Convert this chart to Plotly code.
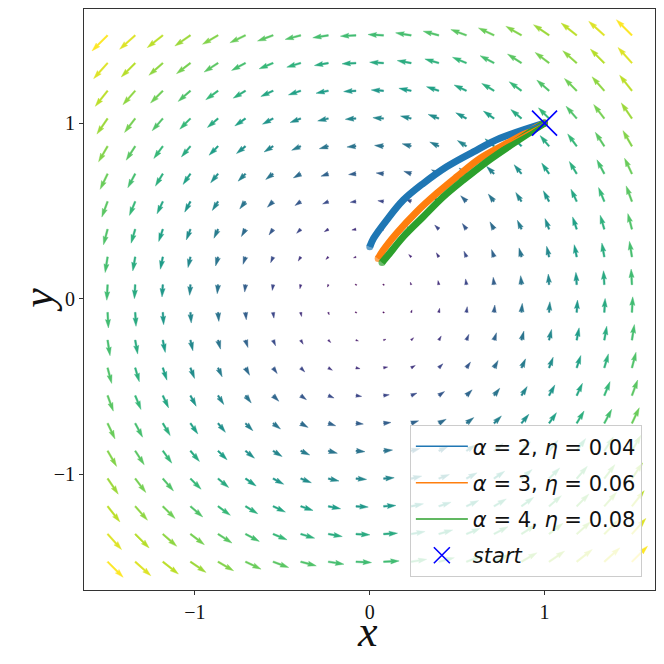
import math

import plotly.graph_objects as go
from plotly.colors import sample_colorscale

# quiver grid (20 x 20 points, same values on both axes)
grid = [-1.5, -1.342, -1.184, -1.026, -0.868, -0.711, -0.553, -0.395, -0.237, -0.079,
        0.079, 0.237, 0.395, 0.553, 0.711, 0.868, 1.026, 1.184, 1.342, 1.5]

# trajectories
traj_labels = ["<i>α</i> = 2, <i>η</i> = 0.04",
               "<i>α</i> = 3, <i>η</i> = 0.06",
               "<i>α</i> = 4, <i>η</i> = 0.08"]
traj_colors = ["#1f77b4", "#ff7f0e", "#2ca02c"]
traj_x = [
    [1.0, 0.745, 0.593, 0.440, 0.306, 0.192, 0.097, 0.022, 0.0],
    [1.0, 0.784, 0.631, 0.498, 0.383, 0.269, 0.154, 0.078, 0.048],
    [1.0, 0.822, 0.669, 0.535, 0.421, 0.306, 0.192, 0.106, 0.070],
]
traj_y = [
    [1.0, 0.913, 0.836, 0.751, 0.656, 0.561, 0.447, 0.343, 0.295],
    [1.0, 0.884, 0.799, 0.694, 0.599, 0.495, 0.372, 0.276, 0.228],
    [1.0, 0.884, 0.779, 0.675, 0.580, 0.466, 0.352, 0.248, 0.205],
]
start_x = [1.0]
start_y = [1.0]

X_RANGE = [-1.635, 1.632]
Y_RANGE = [-1.661, 1.650]
PLOT_W, PLOT_H = 571, 581
SX = PLOT_W / (X_RANGE[1] - X_RANGE[0])   # px per data unit
SY = PLOT_H / (Y_RANGE[1] - Y_RANGE[0])
K = 10.4        # px per unit of field magnitude
W = 1.713       # shaft width, px


def field(x, y):
    return -y, x


def arrow_poly(x0, y0, u, v):
    dx, dy = u * K, v * K
    L = math.hypot(dx, dy) / W
    th = math.atan2(dy, dx)
    if L < 1:
        pts = [(0.5 * math.cos(a * math.pi / 3), 0.5 * math.sin(a * math.pi / 3)) for a in range(7)]
        th = 0.0
    elif L < 5:
        s = L / 5
        pts = [(s * a, s * b) for a, b in zip([0, 0.5, 0, 5, 0, 0.5, 0, 0],
                                              [0.5, 0.5, 1.5, 0, -1.5, -0.5, -0.5, 0.5])]
    else:
        pts = list(zip([0, L - 4.5, L - 5, L, L - 5, L - 4.5, 0, 0],
                       [0.5, 0.5, 1.5, 0, -1.5, -0.5, -0.5, 0.5]))
    c, s_ = math.cos(th), math.sin(th)
    xs = [x0 + (a * c - b * s_) * W / SX for a, b in pts]
    ys = [y0 + (a * s_ + b * c) * W / SY for a, b in pts]
    return xs, ys


arrows = []
for gy in grid:
    for gx in grid:
        u, v = field(gx, gy)
        arrows.append((gx, gy, u, v, math.hypot(u, v)))
cmin = min(a[4] for a in arrows)
cmax = max(a[4] for a in arrows)

groups = {}
for gx, gy, u, v, m in arrows:
    level = round((m - cmin) / (cmax - cmin) * 100) / 100
    xs, ys = arrow_poly(gx, gy, u, v)
    g = groups.setdefault(level, ([], []))
    g[0].extend(xs + [None])
    g[1].extend(ys + [None])

fig = go.Figure()
for level in sorted(groups):
    col = sample_colorscale("Viridis", [level])[0]
    xs, ys = groups[level]
    fig.add_trace(go.Scatter(
        x=xs, y=ys, mode="lines", fill="toself", fillcolor=col,
        line=dict(color=col, width=0.4), showlegend=False, hoverinfo="skip",
    ))

# thick trajectories
for xs, ys, col in zip(traj_x, traj_y, traj_colors):
    sizes = [7] + [0] * (len(xs) - 2) + [7]
    fig.add_trace(go.Scatter(
        x=xs, y=ys, mode="lines+markers",
        line=dict(color=col, width=7, shape="spline", smoothing=1.0),
        marker=dict(size=sizes, color=col, line=dict(width=0)),
        showlegend=False, hoverinfo="skip",
    ))

# thin copies for legend
for i, (xs, ys, col, lab) in enumerate(zip(traj_x, traj_y, traj_colors, traj_labels)):
    fig.add_trace(go.Scatter(
        x=xs, y=ys, mode="lines", name=lab, legendgroup=f"g{i}",
        line=dict(color=col, width=1.5, shape="spline", smoothing=1.0),
    ))

fig.add_trace(go.Scatter(
    x=start_x, y=start_y, mode="markers", name="<i>start</i>", legendgroup="g3",
    marker=dict(symbol="x-thin-open", size=25, color="#0000ff",
                line=dict(color="#0000ff", width=1.6)),
))

axis_common = dict(
    showgrid=False, zeroline=False, showline=True, mirror=True,
    linecolor="#333333", linewidth=1, automargin=False,
    ticks="outside", ticklen=4, tickwidth=1, tickcolor="#333333",
    tickvals=[-1, 0, 1],
    tickfont=dict(family="Liberation Serif", size=20, color="#111111"),
)

label_font = dict(family="Liberation Serif", size=44, color="#111111")

# the page body adds 8 px at top/left, so the margins are shifted to compensate
fig.update_layout(
    width=664, height=664,
    template="plotly_white",
    plot_bgcolor="white", paper_bgcolor="white",
    margin=dict(l=76, r=17, t=1, b=82),
    xaxis=dict(range=X_RANGE, **axis_common),
    yaxis=dict(range=Y_RANGE, **axis_common),
    annotations=[
        dict(text="<i>x</i>", x=0.497, y=-0.072, xref="paper", yref="paper",
             xanchor="center", yanchor="middle", showarrow=False, font=label_font),
        dict(text="<i>y</i>", x=-0.08, y=0.5, xref="paper", yref="paper",
             xanchor="center", yanchor="middle", showarrow=False, textangle=-90,
             font=label_font),
    ],
    legend=dict(
        x=0.977, y=0.022, xanchor="right", yanchor="bottom",
        bgcolor="rgba(255,255,255,0.8)", bordercolor="#cccccc", borderwidth=1,
        font=dict(family="DejaVu Sans", size=21, color="#111111"),
        tracegroupgap=6, itemwidth=52,
    ),
)

fig.write_html("out.html")
